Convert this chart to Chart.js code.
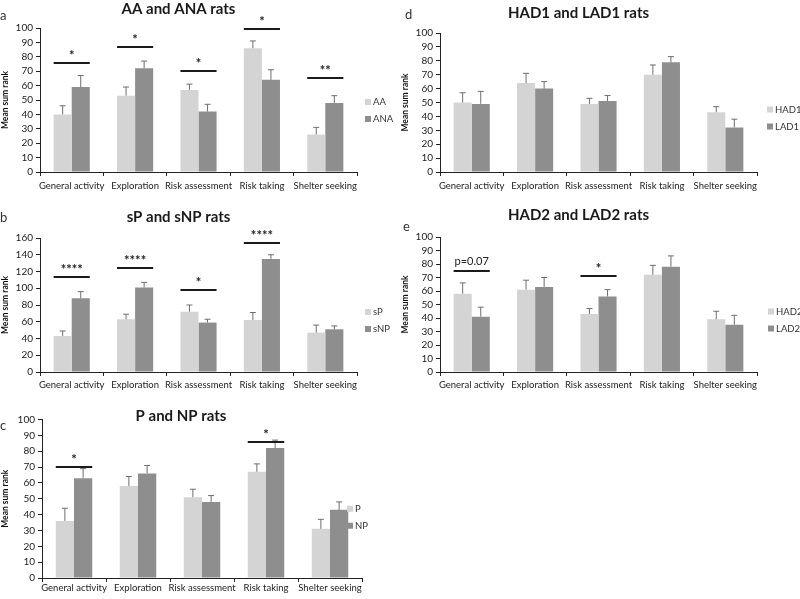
<!DOCTYPE html>
<html>
<head>
<meta charset="utf-8">
<title>Mean sum rank by rat line</title>
<script src="https://cdn.jsdelivr.net/npm/chart.js@4.4.0/dist/chart.umd.min.js"></script>
<style>
  body { margin: 0; background: #fff; }
  #fig { position: relative; width: 800px; height: 599px; overflow: hidden; font-family: Lato, sans-serif; }
  canvas { position: absolute; }
  .letter { position: absolute; font-size: 13px; color: #333; line-height: 13px; }
</style>
</head>
<body>
<div id="fig">
  <canvas id="chartA" width="400" height="200" style="left:0;top:0"></canvas>
  <canvas id="chartD" width="400" height="200" style="left:400px;top:0"></canvas>
  <canvas id="chartB" width="400" height="200" style="left:0;top:190px"></canvas>
  <canvas id="chartE" width="400" height="200" style="left:400px;top:190px"></canvas>
  <canvas id="chartC" width="400" height="214" style="left:0;top:385px"></canvas>
  <div class="letter" style="left:0;top:9px">a</div>
  <div class="letter" style="left:405px;top:8px">d</div>
  <div class="letter" style="left:0;top:211px">b</div>
  <div class="letter" style="left:403px;top:220px">e</div>
  <div class="letter" style="left:0;top:419px">c</div>
</div>
<script>
// categories shared by all panels
const categories = ['General activity', 'Exploration', 'Risk assessment', 'Risk taking', 'Shelter seeking'];

// a: AA vs ANA
const aaMeans = [40, 53, 57, 86, 26];
const aaErr = [6, 6, 4, 5, 5];
const anaMeans = [59, 72, 42, 64, 48];
const anaErr = [8, 5, 5, 7, 5];
const aSigCats = [0, 1, 2, 3, 4];
const aSigLevels = [76, 87, 70, 99, 65];
const aSigLabels = ['*', '*', '*', '*', '**'];

// b: sP vs sNP
const spMeans = [43, 63, 72, 62, 47];
const spErr = [6, 6, 8, 9, 9];
const snpMeans = [88, 101, 59, 135, 51];
const snpErr = [8, 6, 4, 5, 4];
const bSigCats = [0, 1, 2, 3];
const bSigLevels = [114, 124, 98, 154];
const bSigLabels = ['****', '****', '*', '****'];

// c: P vs NP
const pMeans = [36, 58, 51, 67, 31];
const pErr = [8, 6, 5, 5, 6];
const npMeans = [63, 66, 48, 82, 43];
const npErr = [6, 5, 4, 5, 5];
const cSigCats = [0, 3];
const cSigLevels = [70, 86];
const cSigLabels = ['*', '*'];

// d: HAD1 vs LAD1
const had1Means = [50, 64, 49, 70, 43];
const had1Err = [7, 7, 4, 7, 4];
const lad1Means = [49, 60, 51, 79, 32];
const lad1Err = [9, 5, 4, 4, 6];

// e: HAD2 vs LAD2
const had2Means = [58, 61, 43, 72, 39];
const had2Err = [8, 7, 4, 7, 6];
const lad2Means = [41, 63, 56, 78, 35];
const lad2Err = [7, 7, 5, 8, 7];
const eSigCats = [0, 2];
const eSigLevels = [75, 71];
const eSigLabels = ['p=0.07', '*'];

const lightGrey = '#d4d4d4';
const darkGrey = '#8e8e8e';

// upward whiskers with a small cap
const errorBars = {
    id: 'errorBars',
    afterDatasetsDraw(chart) {
        const ctx = chart.ctx;
        const y = chart.scales.y;
        ctx.save();
        ctx.strokeStyle = '#6e6e6e';
        ctx.lineWidth = 1;
        chart.data.datasets.forEach((ds, i) => {
            chart.getDatasetMeta(i).data.forEach((bar, j) => {
                const top = y.getPixelForValue(ds.data[j] + ds.errors[j]);
                ctx.beginPath();
                ctx.moveTo(bar.x, bar.y);
                ctx.lineTo(bar.x, top);
                ctx.moveTo(bar.x - 3, top);
                ctx.lineTo(bar.x + 3, top);
                ctx.stroke();
            });
        });
        ctx.restore();
    }
};

// significance bars over a category pair
const sigMarks = {
    id: 'sigMarks',
    afterDatasetsDraw(chart, args, opts) {
        const cats = opts.cats || [];
        const ctx = chart.ctx;
        const y = chart.scales.y;
        ctx.save();
        cats.forEach((c, k) => {
            const b0 = chart.getDatasetMeta(0).data[c];
            const b1 = chart.getDatasetMeta(1).data[c];
            const x0 = b0.x - b0.width / 2;
            const x1 = b1.x + b1.width / 2;
            const py = Math.round(y.getPixelForValue(opts.levels[k]));
            ctx.strokeStyle = '#1a1a1a';
            ctx.lineWidth = 2;
            ctx.beginPath();
            ctx.moveTo(x0, py);
            ctx.lineTo(x1, py);
            ctx.stroke();
            const label = opts.labels[k];
            ctx.fillStyle = '#222';
            ctx.textAlign = 'center';
            ctx.textBaseline = 'alphabetic';
            ctx.font = label.startsWith('p') ? '11px Lato' : 'bold 13px Lato';
            ctx.fillText(label, (x0 + x1) / 2, py - (label.startsWith('p') ? 6 : 3));
        });
        ctx.restore();
    }
};

// small square legend placed beside the plot
const boxLegend = {
    id: 'boxLegend',
    afterDraw(chart, args, opts) {
        const ctx = chart.ctx;
        const area = chart.chartArea;
        const x = area.right + opts.dx;
        const y0 = (area.top + area.bottom) / 2 + opts.dy;
        ctx.save();
        ctx.font = '9.5px Lato';
        ctx.textBaseline = 'middle';
        ctx.textAlign = 'left';
        chart.data.datasets.forEach((ds, i) => {
            const yy = y0 + i * 17;
            ctx.fillStyle = ds.backgroundColor;
            ctx.fillRect(x, yy - 3, 6, 6);
            ctx.fillStyle = '#333';
            ctx.fillText(ds.label, x + 8, yy);
        });
        ctx.restore();
    }
};

function buildChart(id, o) {
    return new Chart(document.getElementById(id), {
        type: 'bar',
        data: {
            labels: categories,
            datasets: [
                { label: o.names[0], data: o.means[0], errors: o.errs[0], backgroundColor: lightGrey },
                { label: o.names[1], data: o.means[1], errors: o.errs[1], backgroundColor: darkGrey }
            ]
        },
        options: {
            responsive: false,
            animation: false,
            layout: { padding: { right: o.padRight, left: 0, top: 0, bottom: 0 } },
            datasets: { bar: { categoryPercentage: 0.57, barPercentage: 1 } },
            scales: {
                x: {
                    grid: { display: true, drawOnChartArea: false, offset: true, color: '#222', tickLength: 4 },
                    border: { color: '#222', width: 1 },
                    ticks: { color: '#222', font: { family: 'Lato', size: 9.5 }, padding: o.xPad, maxRotation: 0, autoSkip: false },
                    afterFit: s => { s.height = o.xHeight; }
                },
                y: {
                    min: 0,
                    max: o.yMax,
                    grid: { display: true, drawOnChartArea: false, color: '#222', tickLength: 4 },
                    border: { color: '#222', width: 1 },
                    ticks: { stepSize: o.yStep, autoSkip: false, color: '#222', font: { family: 'Lato', size: 10 }, padding: 3 },
                    title: { display: true, text: 'Mean sum rank', color: '#111', font: { family: 'Lato', size: 8.5, weight: 'bold' }, padding: 0 },
                    afterFit: s => { s.width = o.yWidth; }
                }
            },
            plugins: {
                legend: { display: false },
                tooltip: { enabled: false },
                title: {
                    display: true,
                    text: o.title,
                    color: '#1a1a1a',
                    font: { family: 'Lato', size: 15, weight: 'bold', lineHeight: o.titleLH || 1.2 },
                    padding: o.titlePad
                },
                sigMarks: { cats: o.sigCats, levels: o.sigLevels, labels: o.sigLabels },
                boxLegend: { dx: o.legDx, dy: o.legDy }
            }
        },
        plugins: [errorBars, sigMarks, boxLegend]
    });
}

buildChart('chartA', {
    title: 'AA and ANA rats', names: ['AA', 'ANA'],
    means: [aaMeans, anaMeans], errs: [aaErr, anaErr],
    yMax: 100, yStep: 10, yWidth: 40, xHeight: 28, xPad: 4, padRight: 43,
    titlePad: { top: 0, bottom: 10 },
    sigCats: aSigCats, sigLevels: aSigLevels, sigLabels: aSigLabels,
    legDx: 8, legDy: 2
});

buildChart('chartD', {
    title: 'HAD1 and LAD1 rats', names: ['HAD1', 'LAD1'],
    means: [had1Means, lad1Means], errs: [had1Err, lad1Err],
    yMax: 100, yStep: 10, yWidth: 40, xHeight: 28, xPad: 4, padRight: 43,
    titlePad: { top: 4, bottom: 11 },
    sigCats: [], sigLevels: [], sigLabels: [],
    legDx: 10, legDy: 7
});

buildChart('chartB', {
    title: 'sP and sNP rats', names: ['sP', 'sNP'],
    means: [spMeans, snpMeans], errs: [spErr, snpErr],
    yMax: 160, yStep: 20, yWidth: 40, xHeight: 18, xPad: 3, padRight: 43,
    titlePad: { top: 18, bottom: 12 },
    sigCats: bSigCats, sigLevels: bSigLevels, sigLabels: bSigLabels,
    legDx: 8, legDy: 7
});

buildChart('chartE', {
    title: 'HAD2 and LAD2 rats', names: ['HAD2', 'LAD2'],
    means: [had2Means, lad2Means], errs: [had2Err, lad2Err],
    yMax: 100, yStep: 10, yWidth: 40, xHeight: 18, xPad: 3, padRight: 43,
    titlePad: { top: 16, bottom: 13 },
    sigCats: eSigCats, sigLevels: eSigLevels, sigLabels: eSigLabels,
    legDx: 11, legDy: 7
});

buildChart('chartC', {
    title: 'P and NP rats', names: ['P', 'NP'],
    means: [pMeans, npMeans], errs: [pErr, npErr],
    yMax: 100, yStep: 10, yWidth: 42, xHeight: 21, xPad: 0, padRight: 38,
    titleLH: 0.5,
    titlePad: { top: 27, bottom: 0 },
    sigCats: cSigCats, sigLevels: cSigLevels, sigLabels: cSigLabels,
    legDx: -15, legDy: 10
});
</script>
</body>
</html>
